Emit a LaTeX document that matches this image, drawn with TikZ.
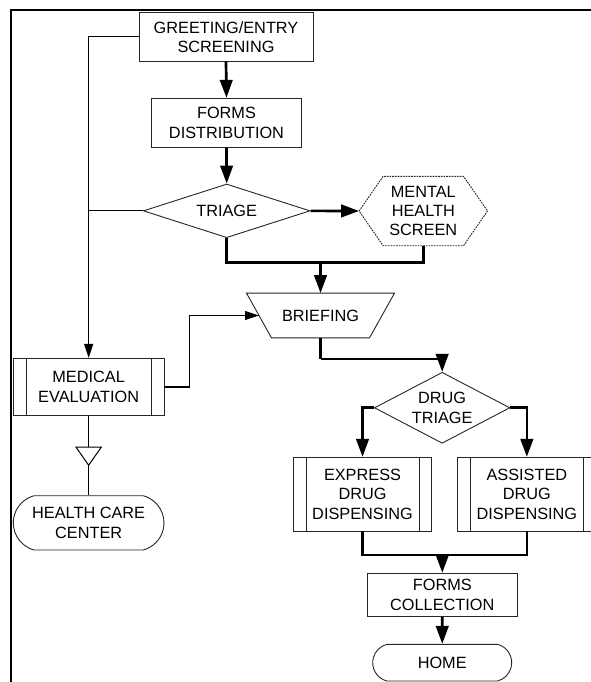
\documentclass[tikz,border=0pt]{standalone}
\usepackage{fontspec}
\setmainfont{Liberation Sans}
\usetikzlibrary{arrows.meta,shapes.geometric,shapes.misc}
\tikzset{
  txt/.style={inner sep=0pt, align=center, font=\fontsize{16.3}{19.3}\selectfont, text=black},
  boxnode/.style={txt, draw=black!85, line width=0.9pt, rectangle},
  procnode/.style={boxnode, path picture={
      \draw[black!85, line width=0.9pt]
        ([xshift=12.7pt]path picture bounding box.north west) -- ([xshift=12.7pt]path picture bounding box.south west)
        ([xshift=-12.7pt]path picture bounding box.north east) -- ([xshift=-12.7pt]path picture bounding box.south east);}},
  decnode/.style={txt, draw=black!85, line width=0.9pt, diamond},
  termnode/.style={txt, draw=black!85, line width=0.9pt, rounded rectangle, rounded rectangle arc length=150},
  ghost/.style={txt, draw=none, rectangle},
  thinline/.style={line width=1.1pt, black},
  thinarrow/.style={thinline, -{Triangle[length=14pt,width=9pt]}},
  thickline/.style={line width=2.7pt, black, line join=miter},
  thickarrow/.style={thickline, -{Triangle[length=18pt,width=12.5pt]}},
}
\begin{document}
\begin{tikzpicture}[x=1pt, y=-1pt]
\useasboundingbox (0,0) rectangle (590,682);
\fill[white] (0,0) rectangle (590,682);
% frame
\draw[line width=2pt] (10.5,684) -- (10.5,10) -- (592,10);

% nodes
\node[boxnode, minimum width=174pt, minimum height=48.3pt] (greet) at (226,36.85) {GREETING/ENTRY\\SCREENING};
\node[boxnode, minimum width=150.5pt, minimum height=49pt] (forms) at (226.5,122.8) {FORMS\\DISTRIBUTION};
\node[decnode, aspect=3, minimum width=166.7pt, minimum height=53.7pt] (triage) at (226.7,210.85) {TRIAGE};
\node[ghost, minimum width=128pt, minimum height=69pt] (mh) at (423.3,211) {MENTAL\\HEALTH\\SCREEN};
\draw[black!85, line width=0.9pt, dash pattern=on 1.7pt off 1pt]
  (mh.west) -- ([xshift=24pt]mh.north west) -- ([xshift=-24pt]mh.north east) -- (mh.east)
  -- ([xshift=-24pt]mh.south east) -- ([xshift=24pt]mh.south west) -- cycle;
\node[ghost, minimum width=147.6pt, minimum height=44.4pt] (brief) at (320.5,315.5) {BRIEFING};
\draw[black!85, line width=0.9pt]
  (brief.north west) -- (brief.north east) -- ([xshift=-25pt]brief.south east) -- ([xshift=25pt]brief.south west) -- cycle;
\node[procnode, minimum width=150.7pt, minimum height=57.4pt] (med) at (88.65,387) {MEDICAL\\EVALUATION};
\node[inner sep=0pt, minimum width=25pt, minimum height=17.7pt] (tri) at (88.65,456.15) {};
\draw[black, line width=1pt, line join=miter] (tri.north west) -- (tri.north east) -- (tri.south) -- cycle;
\node[termnode, minimum width=150.7pt, minimum height=54.3pt] (hcc) at (88.65,522.85) {HEALTH CARE\\CENTER};
\node[decnode, aspect=1.9, minimum width=135.5pt, minimum height=71pt] (dtri) at (442.15,407.8) {DRUG\\TRIAGE};
\node[procnode, minimum width=138.4pt, minimum height=73.7pt] (expr) at (362.5,494.15) {EXPRESS\\DRUG\\DISPENSING};
\node[procnode, minimum width=138.4pt, minimum height=73.7pt] (assist) at (526.85,494.15) {ASSISTED\\DRUG\\DISPENSING};
\node[boxnode, minimum width=150pt, minimum height=43.4pt] (fcol) at (442.3,595) {FORMS\\COLLECTION};
\node[termnode, minimum width=139pt, minimum height=36.7pt] (home) at (442.2,662.65) {HOME};

\coordinate (j1) at (320.5,262.8);
\coordinate (j2) at (320.5,359);
\coordinate (j3) at (442.3,555);

% connectors
\draw[thickarrow] (greet.south) -- (forms.north);
\draw[thickarrow] (forms.south) -- (triage.north);
\draw[thickarrow] (triage.east) -- (mh.west);
\draw[thickline] (triage.south) |- (j1) -| (mh.south);
\draw[thickarrow] (j1) -- (brief.north);
\draw[thinarrow] (greet.west) -| (med.north);
\draw[thinline] (triage.west) -- (triage.west -| med.north);
\draw[thinarrow] (med.east) -- ++(24.7,0) |- ([xshift=12.5pt]brief.west);
\draw[thinline] (med.south) -- (tri.north);
\draw[thinline] (tri.south) -- (hcc.north);
\draw[thickline] (brief.south) -- (j2);
\draw[thickarrow] (j2) -| (dtri.north);
\draw[thickarrow] (dtri.west) -| (expr.north);
\draw[thickarrow] (dtri.east) -| (assist.north);
\draw[thickline] (expr.south) |- (j3) -| (assist.south);
\draw[thickarrow] (j3) -- (fcol.north);
\draw[thickarrow] (fcol.south) -- (home.north);
\end{tikzpicture}
\end{document}
